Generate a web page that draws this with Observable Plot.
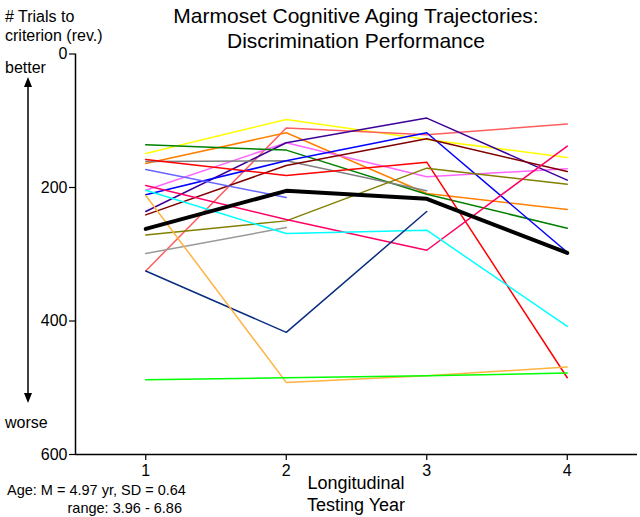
<!DOCTYPE html>
<html>
<head>
<meta charset="utf-8">
<script src="https://cdn.jsdelivr.net/npm/d3@7"></script>
<script src="https://cdn.jsdelivr.net/npm/@observablehq/plot@0.6"></script>
<style>
  html, body { margin: 0; padding: 0; background: #fff; }
  svg text { font-family: "Liberation Sans", Arial, Helvetica, sans-serif; }
</style>
</head>
<body>
<div id="chart"></div>
<script>
// ---- Data (trials to criterion, by longitudinal testing year) ----
const years = [1, 2, 3, 4];
const yTicks = [0, 200, 400, 600];
const seriesNames = [
  "yellow", "salmon", "orange", "magenta", "indigo", "green", "gray", "blue",
  "maroon", "red", "slateblue", "olive", "lightgray", "deeppink", "cyan",
  "navy", "lightorange", "lime"
];
const seriesColors = [
  "#ffff00", "#ff5e5e", "#ff8000", "#ff66ff", "#3d0099", "#008000", "#808080", "#0000ff",
  "#800000", "#ff0000", "#6666ff", "#808000", "#999999", "#ff0066", "#00ffff",
  "#0a2d80", "#ffb340", "#00ff00"
];
const yellow      = [149,  98, 128, 155];
const salmon      = [325, 111, 121, 105];
const orange      = [164, 118, 209, 233];
const magenta     = [204, 133, 184, 172];
const indigo      = [236, 133,  96, 189];
const green       = [136, 144, 210, 261];
const gray        = [161, 160, 205, null];
const blue        = [211, 160, 118, 297];
const maroon      = [241, 167, 127, 176];
const red         = [158, 182, 162, 485];
const slateblue   = [173, 215, null, null];
const olive       = [271, 250, 171, 195];
const lightgray   = [299, 260, null, null];
const deeppink    = [197, 248, 294, 138];
const cyan        = [204, 269, 264, 408];
const navy        = [325, 417, 236, null];
const lightorange = [212, 492, 482, 469];
const lime        = [488, 485, 482, 478];
const meanSeries  = [262, 205, 217, 298];

const seriesValues = [yellow, salmon, orange, magenta, indigo, green, gray, blue,
  maroon, red, slateblue, olive, lightgray, deeppink, cyan, navy, lightorange, lime];

// tidy table built from the arrays
const rows = [];
seriesValues.forEach((vals, i) => {
  vals.forEach((v, j) => {
    if (v != null) rows.push({name: seriesNames[i], color: seriesColors[i], year: years[j], trials: v});
  });
});
const meanRows = meanSeries.map((v, j) => ({year: years[j], trials: v}));

const font = '"Liberation Sans", Arial, Helvetica, sans-serif';

const plot = Plot.plot({
  width: 640,
  height: 517,
  marginLeft: 75,
  marginRight: 3,
  marginTop: 53.5,
  marginBottom: 63,
  style: {fontFamily: font, fontSize: "15px", color: "#000", background: "#fff", overflow: "visible"},
  x: {domain: [0.5, 4.5], label: null},
  y: {domain: [0, 600], reverse: true, label: null},
  marks: [
    Plot.line(rows, {x: "year", y: "trials", z: "name", stroke: "color", strokeWidth: 1.5}),
    Plot.line(meanRows, {x: "year", y: "trials", stroke: "#000", strokeWidth: 4}),
    Plot.ruleY([600], {stroke: "#000", strokeWidth: 1.5}),
    Plot.ruleX([0.5], {stroke: "#000", strokeWidth: 1.5}),
    Plot.axisX(years, {tickSize: 6, tickPadding: 4, tickFormat: "d", stroke: "#000", strokeWidth: 1.2, fontSize: 16}),
    Plot.axisY(yTicks, {tickSize: 6, tickPadding: 2, tickFormat: "d", stroke: "#000", strokeWidth: 1.2, fontSize: 16})
  ]
});

document.getElementById("chart").appendChild(plot);

// ---- Annotations (title, axis labels, arrow) ----
const svg = d3.select(plot);
const ann = svg.append("g").attr("fill", "#000").attr("text-anchor", "start").style("font-family", font);

ann.append("text").attr("x", 356).attr("y", 23).attr("text-anchor", "middle")
  .style("font-size", "21px").text("Marmoset Cognitive Aging Trajectories:");
ann.append("text").attr("x", 356).attr("y", 48).attr("text-anchor", "middle")
  .style("font-size", "21px").text("Discrimination Performance");

ann.append("text").attr("x", 5).attr("y", 22).attr("text-anchor", "start").style("font-size", "16px").text("# Trials to");
ann.append("text").attr("x", 5).attr("y", 41).attr("text-anchor", "start").style("font-size", "16px").text("criterion (rev.)");
ann.append("text").attr("x", 5).attr("y", 73).attr("text-anchor", "start").style("font-size", "16px").text("better");
ann.append("text").attr("x", 5).attr("y", 428).attr("text-anchor", "start").style("font-size", "16px").text("worse");

ann.append("text").attr("x", 356).attr("y", 489).attr("text-anchor", "middle")
  .style("font-size", "18px").text("Longitudinal");
ann.append("text").attr("x", 356).attr("y", 511).attr("text-anchor", "middle")
  .style("font-size", "18px").text("Testing Year");

ann.append("text").attr("x", 7).attr("y", 495).attr("text-anchor", "start").style("font-size", "14.5px").text("Age: M = 4.97 yr, SD = 0.64");
ann.append("text").attr("x", 182).attr("y", 513).attr("text-anchor", "end")
  .style("font-size", "14.5px").text("range: 3.96 - 6.86");

// double arrow
const ax = 28;
ann.append("line").attr("x1", ax).attr("x2", ax).attr("y1", 84).attr("y2", 396)
  .attr("stroke", "#000").attr("stroke-width", 1.5);
ann.append("path").attr("d", `M${ax},77 L${ax - 4},87 L${ax + 4},87 Z`);
ann.append("path").attr("d", `M${ax},403 L${ax - 4},393 L${ax + 4},393 Z`);
</script>
</body>
</html>
